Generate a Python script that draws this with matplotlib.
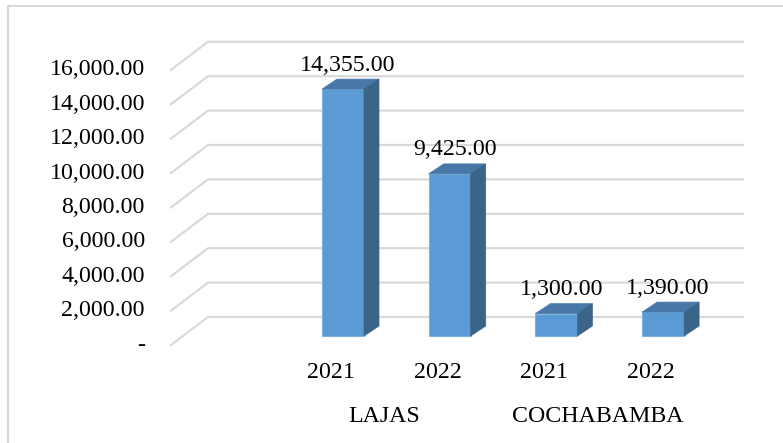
import numpy as np
import matplotlib.pyplot as plt
from matplotlib.patches import Polygon

regions = ["LAJAS", "COCHABAMBA"]
years = ["2021", "2022", "2021", "2022"]
values = [14355.00, 9425.00, 1300.00, 1390.00]
ticks = [0, 2000, 4000, 6000, 8000, 10000, 12000, 14000, 16000]

plt.rcParams['font.family'] = ['Liberation Serif', 'DejaVu Serif']
FS = 17.2

W, H = 783, 443
fig = plt.figure(figsize=(W / 100, H / 100), dpi=100)
ax = fig.add_axes([0, 0, 1, 1])

# pixel scale: 106.7 px per category, 0.0172 px per unit value
px_x = 1 / 106.7
px_y = 1 / 0.0172
x0 = -343 * px_x
ax.set_xlim(x0, x0 + W * px_x)
ax.set_ylim(-(H - 336) * px_y, 336 * px_y)
ax.axis('off')

# outer frame (top and left only visible)
ax.plot([x0 + 8 * px_x, x0 + 8 * px_x, x0 + 782 * px_x],
        [-(H - 336) * px_y, (336 - 6) * px_y, (336 - 6) * px_y],
        color='#d9d9d9', lw=1.5, clip_on=False)

# gridlines in perspective
fx = x0 + 171 * px_x
bx = x0 + 208 * px_x
ex = x0 + 743 * px_x
front_dy = -9 * px_y
back_dy = 19 * px_y
for t in ticks:
    ax.plot([fx, bx, ex], [t + front_dy, t + back_dy, t + back_dy],
            color='#d9d9d9', lw=1.6, zorder=1)
    lab = "-" if t == 0 else f"{t:,.2f}"
    ax.text(x0 + 145 * px_x, t + front_dy, lab, ha='right', va='center',
            fontsize=FS, color='black')

# 3D bars
w = 42 * px_x
ddx = 15 * px_x
ddy = 10 * px_y
for i, v in enumerate(values):
    l, r = i - w / 2, i + w / 2
    ax.add_patch(Polygon([(l, 0), (r, 0), (r, v), (l, v)], closed=True,
                         facecolor='#5b9bd5', edgecolor='#7fb2e0', lw=0.8, zorder=3))
    ax.add_patch(Polygon([(l, v), (r, v), (r + ddx, v + ddy), (l + ddx, v + ddy)],
                         closed=True, facecolor='#4878a8', edgecolor='#4878a8', lw=0.5, zorder=3))
    ax.add_patch(Polygon([(r, 0), (r + ddx, ddy), (r + ddx, v + ddy), (r, v)],
                         closed=True, facecolor='#3b6489', edgecolor='#3b6489', lw=0.5, zorder=3))
    ax.text(i + 5 * px_x, v + 24 * px_y, f"{v:,.2f}", ha='center', va='center',
            fontsize=FS, color='black', zorder=4)
    ax.text(i - 12 * px_x, -37 * px_y, years[i], ha='center', va='center',
            fontsize=FS, color='black')

for k, reg in enumerate(regions):
    cx = 2 * k + 0.5 - 12 * px_x
    ax.text(cx, -81 * px_y, reg, ha='center', va='center', fontsize=FS, color='black')

fig.savefig('out.png', dpi=100)
